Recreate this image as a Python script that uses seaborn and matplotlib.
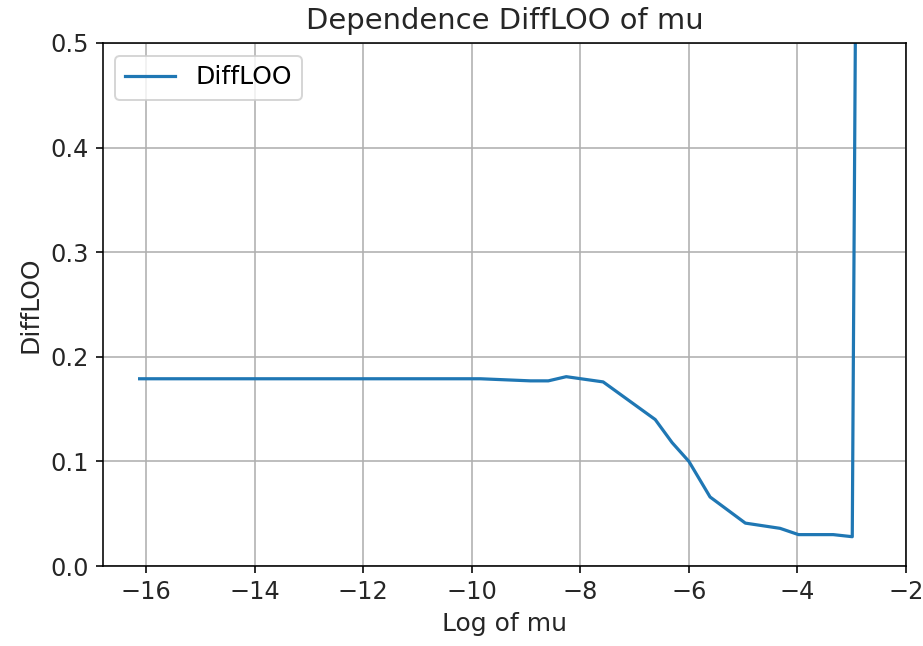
import matplotlib
matplotlib.use("Agg")
import matplotlib.pyplot as plt
import seaborn as sns
import pandas as pd

log_mu = [-16.12, -13.82, -11.51, -9.84, -8.92, -8.59, -8.26, -7.58, -6.62,
          -6.31, -6.00, -5.61, -4.96, -4.32, -3.98, -3.34, -2.99, -2.66]
diff_loo = [0.179, 0.179, 0.179, 0.179, 0.177, 0.177, 0.181, 0.176, 0.140,
            0.118, 0.100, 0.066, 0.041, 0.036, 0.030, 0.030, 0.028, 2.8]

df = pd.DataFrame({"Log of mu": log_mu, "DiffLOO": diff_loo})

dpi = 144
W, H = 923, 646
fig = plt.figure(figsize=(W / dpi, H / dpi), dpi=dpi)
ax = fig.add_axes([102.7 / W, 1 - 566 / H, (906 - 102.7) / W, (566 - 43) / H])

sns.lineplot(data=df, x="Log of mu", y="DiffLOO", ax=ax, label="DiffLOO",
             color="#1f77b4", linewidth=1.6, sort=False)

ax.set_xlim(-16.8, -2.0)
ax.set_ylim(0, 0.5)
ax.set_xticks([-16, -14, -12, -10, -8, -6, -4, -2])
ax.set_yticks([0.0, 0.1, 0.2, 0.3, 0.4, 0.5])
ax.grid(True, color="#b0b0b0", linewidth=0.8)
txt = "#262626"
ax.set_title("Dependence DiffLOO of mu", fontsize=14.5, color=txt, pad=7)
ax.set_xlabel("Log of mu", fontsize=12.5, color=txt)
ax.set_ylabel("DiffLOO", fontsize=12.5, color=txt)
ax.tick_params(labelsize=12, labelcolor=txt)
ax.legend(loc="upper left", fontsize=12.5)

fig.savefig("out.png", dpi=dpi)
